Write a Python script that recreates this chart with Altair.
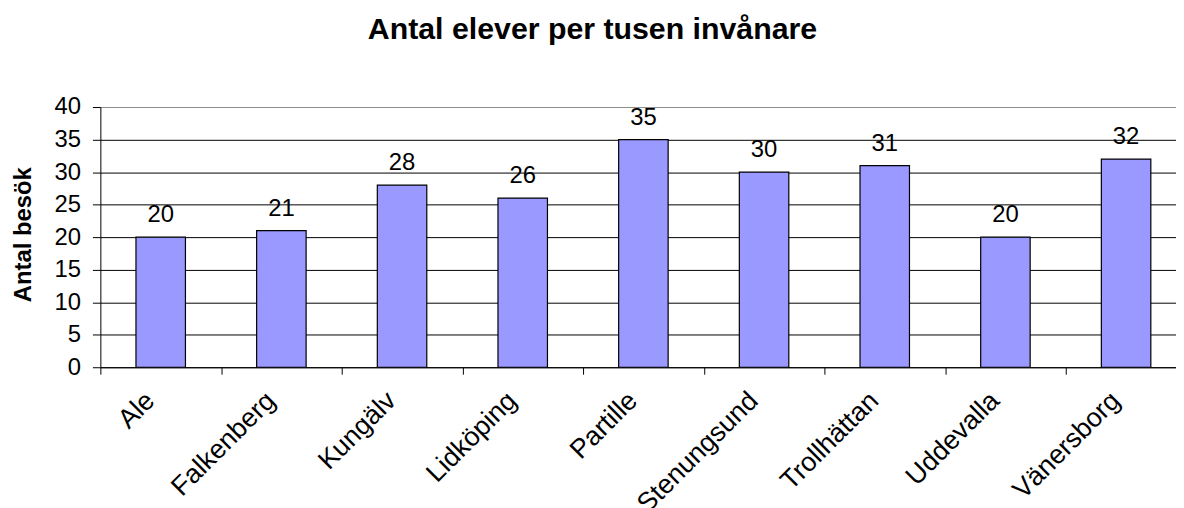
import altair as alt
import pandas as pd

categories = ["Ale", "Falkenberg", "Kungälv", "Lidköping", "Partille",
              "Stenungsund", "Trollhättan", "Uddevalla", "Vänersborg"]
values = [20, 21, 28, 26, 35, 30, 31, 20, 32]
y_ticks = [0, 5, 10, 15, 20, 25, 30, 35, 40]

df = pd.DataFrame({"kommun": categories, "antal": values})

FONT = "Liberation Sans"
STEP = 121.5

x_enc = alt.X(
    "kommun:N", sort=categories, title=None,
    scale=alt.Scale(range=[0, STEP * len(categories)], paddingInner=0, paddingOuter=0),
    axis=alt.Axis(
        labelAngle=-45, labelAlign="right", labelBaseline="top",
        labelFont=FONT, labelFontSize=27, labelColor="black",
        labelPadding=13, labelOffset=-20, labelOverlap=False,
        tickBand="extent", tickSize=7, tickColor="black", tickWidth=1,
        domainColor="black", domainWidth=1, grid=False,
    ),
)

y_enc = alt.Y(
    "antal:Q",
    scale=alt.Scale(domain=[0, 40], nice=False),
    axis=alt.Axis(
        values=y_ticks, title="Antal besök", labelOverlap=False,
        titleFont=FONT, titleFontSize=24, titleFontWeight="bold", titleColor="black",
        titleAngle=-90, titleAlign="center", titleBaseline="alphabetic",
        titleX=-70, titleY=128,
        labelFont=FONT, labelFontSize=24, labelColor="black", labelPadding=12,
        tickSize=8, tickColor="black", tickWidth=1,
        domainColor="black", domainWidth=1,
        grid=True, gridWidth=1, gridOpacity=1,
        gridColor={"condition": {"test": "datum.value === 40", "value": "#8c8c8c"}, "value": "#000000"},
    ),
)

bars = alt.Chart(df).mark_bar(
    color="#9999FF", stroke="black", strokeWidth=1.2,
    width=alt.RelativeBandSize(0.41),
).encode(x=x_enc, y=y_enc)

labels = alt.Chart(df).mark_text(
    font=FONT, fontSize=24, color="black", baseline="alphabetic", dy=-15,
).encode(x=x_enc, y=y_enc, text="antal:Q")

chart = alt.layer(bars, labels).properties(
    width=1083, height=262,
    autosize=alt.AutoSizeParams(type="none"),
    padding={"left": 93, "top": 98, "right": 0, "bottom": 140},
    title=alt.TitleParams(
        "Antal elever per tusen invånare", font=FONT, fontSize=30.5,
        fontWeight="bold", color="black", anchor="middle", dx=-46, offset=50,
    ),
    background="white",
).configure_view(stroke=None)

chart.save("out.html", embed_options={"renderer": "svg", "actions": False})
